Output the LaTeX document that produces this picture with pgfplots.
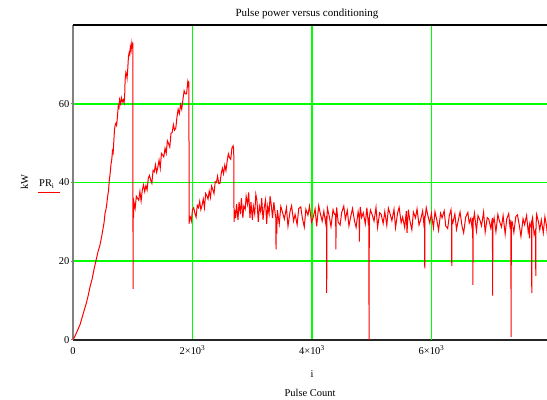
\documentclass[border=0pt]{standalone}
\usepackage{fontspec}
\setmainfont{Liberation Serif}
\usepackage{pgfplots}
\pgfplotsset{compat=1.18}
\definecolor{gridgreen}{RGB}{0,255,0}
\definecolor{plotred}{RGB}{255,0,0}
\begin{document}
\begin{tikzpicture}
\path[use as bounding box] (0,0) rectangle (547bp,400bp);
\begin{axis}[
  name=ax,
  at={(73bp,60bp)}, anchor=south west,
  width=474bp, height=315bp, scale only axis,
  xmin=0, xmax=7933, ymin=0, ymax=80,
  axis x line*=bottom, axis y line*=left,
  x axis line style={black!85, line width=1.2bp, -},
  y axis line style={gray, line width=1.6bp, -},
  xtick={2000,4000,6000},
  xticklabels={2×10\textsuperscript{3}, 4×10\textsuperscript{3}, 6×10\textsuperscript{3}},
  extra x ticks={0}, extra x tick labels={0},
  extra x tick style={grid=none},
  ytick={20,40,60},
  extra y ticks={0}, extra y tick labels={0},
  extra y tick style={grid=none},
  grid=major,
  major grid style={draw=gridgreen, line width=1.5bp},
  xtick style={draw=none},
  ytick style={line width=1bp},
  major tick length=2.5bp,
  tick align=outside,
  /pgf/number format/assume math mode=true,
  ticklabel style={font=\fontsize{10.5}{12}\selectfont},
  xticklabel style={anchor=base, yshift=-12bp},
  yticklabel style={inner sep=1bp},
  clip=true,
]
\draw[draw=gridgreen, line width=1.5bp] (axis cs:6000,0) -- (axis cs:6000,80);
\addplot[plotred, line width=1bp] coordinates {
(0,0) (40,1.2) (80,2.6) (120,4.0) (173,6.8) (220,9.2) (250,11) (285,13.5) (320,15.5) (350,17.8) (385,20.2) (420,22.5) (450,24.0) (480,26.3) (505,28.5) (520,29.8) (536,32.2) (550,33.0)
(565,34.5) (580,36.5) (595,38) (608,40.7) (620,42) (635,44.5) (650,46) (660,48) (672,47.5) (685,51) (695,53.5) (705,54.5) (718,55) (730,54.5) (745,57) (758,59.5) (770,59) (780,61) (795,60) (810,61.5) (825,60.5) (840,61) (855,60.2) (865,62) (872,66) (885,68) (895,67.5) (905,66.5) (915,68.5) (928,72) (940,73) (950,72.5) (960,74.5) (972,73.5) (985,75.5) (995,74.5) (1001,75.5)
(1003,47) (1005,13) (1008,33) (1012,31) (1020,35.0) (1040,33.4) (1060,36.5) (1080,36.0) (1100,35.5) (1120,37.7) (1140,35.3) (1160,38.1) (1180,39.4) (1200,37.7) (1220,39.2) (1240,38.1) (1260,41.1) (1280,41.8) (1300,40.6) (1320,39.8) (1340,43.1) (1360,42.7) (1380,44.5) (1400,42.6) (1420,43.9) (1440,45.7) (1460,43.6) (1480,47.4) (1500,47.0) (1520,46.5) (1540,48.7) (1560,47.4) (1580,50.6) (1600,49.9) (1620,49.0) (1640,52.5) (1660,52.7) (1680,54.7) (1700,53.3) (1720,53.8) (1740,56.6) (1760,58.6) (1780,57.5) (1800,59.8) (1820,58.6) (1840,61.1) (1860,63.3) (1880,62.5) (1900,62.5) (1920,65.4) (1930,64.2) (1936,65.8) (1940,64.5)
(1942,44) (1944,29.5) (1950,31.5) (1960,31.4) (1980,30.2) (2000,33.1) (2020,33.6) (2040,32.2) (2060,31.2) (2080,34.2) (2100,33.6) (2120,35.2) (2140,33.1) (2160,34.2) (2180,35.8) (2200,33.6) (2220,37.2) (2240,36.6) (2260,35.8) (2280,37.8) (2300,36.2) (2320,39.1) (2340,38.2) (2360,37.2) (2380,40.2) (2400,40.0) (2420,41.6) (2440,39.7) (2460,39.8) (2480,42.2) (2500,43.6) (2520,42.2) (2540,44.4) (2560,43.0) (2580,45.4) (2600,47.3) (2620,46.3) (2640,45.9) (2660,48.8) (2680,49.3) (2690,48.2)
(2693,37) (2696,30) (2705,33) (2722,31) (2738,34.5) (2761,30.5) (2779,35) (2802,32) (2818,36) (2843,31) (2858,34) (2882,33.2) (2898,36.5) (2921,34.5) (2940,37.5) (2962,31) (2979,35) (3002,30.5) (3018,34) (3041,32) (3060,37) (3078,35.5) (3101,30) (3119,34) (3142,32.5) (3158,36) (3181,30.5) (3199,33.5) (3222,35.5) (3241,29.5) (3259,34) (3282,32) (3298,36.5) (3321,34) (3339,31) (3362,35) (3380,32.5) (3394,31) (3398,23) (3402,29.5) (3410,27)
(3420,33.0) (3452,29.5) (3478,33.9) (3511,32.2) (3537,30.7) (3572,33.6) (3598,28.9) (3633,32.7) (3658,34.1) (3692,30.2) (3717,31.9) (3751,29.3) (3778,33.4) (3812,33.8) (3838,31.0) (3871,28.7) (3897,33.2) (3932,31.7) (3958,34.0) (3991,29.9)
(4018,31.0) (4052,33.3) (4078,28.9) (4112,34.1) (4138,32.2) (4171,30.2) (4198,32.7) (4232,29.4) (4242,31.5) (4246,12) (4250,30.5) (4258,33.5) (4291,31.2) (4318,28.8) (4352,33.1) (4377,31.9) (4396,32) (4400,23) (4404,30.5) (4412,33.7) (4438,29.9) (4471,29.2) (4497,32.4) (4532,34.0) (4558,30.7) (4591,32.9)
(4618,29.0) (4652,31.6) (4678,33.4) (4711,30.3) (4738,28.6) (4772,32.6) (4789,31) (4793,25) (4797,30.5) (4808,33.8) (4831,31.1) (4858,32.3) (4892,29.5) (4918,33.6) (4945,29.1) (4951,31) (4955,0) (4959,31) (4978,33.0)
(5012,31.6) (5038,30.2) (5071,33.7) (5098,28.6) (5132,32.3) (5158,31.9) (5191,29.6) (5218,32.6) (5252,29.1) (5278,33.5) (5311,31.8) (5337,30.3) (5372,33.2) (5398,28.5) (5433,32.3) (5458,33.7) (5492,29.8) (5517,31.2) (5551,28.6) (5578,32.7) (5590,27.2) (5612,33.1) (5638,30.3) (5671,28.0) (5697,32.5) (5732,31.0) (5758,33.3) (5791,29.2)
(5818,30.5) (5852,32.8) (5878,28.4) (5884,31.5) (5887,18.2) (5891,31) (5912,33.6) (5938,31.7) (5971,29.7) (5998,32.2) (6032,28.5) (6058,32.6) (6091,30.3) (6118,27.9) (6152,32.2) (6177,31.0) (6212,32.8) (6238,29.0) (6271,28.3) (6297,31.5) (6326,33.1) (6335,31.5) (6339,18.8) (6343,30.5) (6358,29.8) (6391,32.0)
(6418,28.1) (6452,30.7) (6478,32.5) (6511,28.9) (6538,27.2) (6572,31.2) (6608,32.4) (6631,29.7) (6658,30.9) (6682,28.1) (6689,31) (6693,14) (6697,30) (6718,32.2) (6752,27.7) (6778,31.6) (6811,30.4) (6837,29.0) (6872,32.5) (6898,27.4) (6933,31.1) (6958,30.7) (6992,28.4)
(7019,31.0) (7023,11.3) (7027,29.5) (7048,31.0) (7078,27.5) (7111,31.9) (7137,30.2) (7172,28.7) (7198,31.6) (7233,26.9) (7258,30.7) (7292,32.1) (7317,28.2) (7328,30.5) (7332,0.8) (7336,29.5) (7351,29.9) (7378,27.3) (7412,31.4) (7438,31.8) (7471,29.0) (7497,26.3) (7532,30.8) (7558,29.3) (7591,31.6) (7618,27.5)
(7637,29) (7640,25.8) (7643,29) (7652,28.8) (7674,30) (7678,11.9) (7682,30.5) (7691,31.1) (7718,26.7) (7742,28) (7745,16.3) (7749,29) (7760,31.9) (7790,30.0) (7812,28.0) (7838,30.5) (7871,27.2) (7898,31.3) (7925,29.0) (7940,26.6)
};
\end{axis}
\draw[black, line width=1.2bp] (ax.north west) -- (ax.north east);
\node[anchor=base, font=\fontsize{11}{13}\selectfont] at (307bp,383bp) {Pulse power versus conditioning};
\node[anchor=base, font=\fontsize{10.5}{12}\selectfont] at (312bp,23bp) {i};
\node[anchor=base, font=\fontsize{10.5}{12}\selectfont] at (310bp,4bp) {Pulse Count};
\node[rotate=90, font=\fontsize{10.5}{12}\selectfont] at (24.5bp,218bp) {kW};
\node[anchor=base west, inner sep=0pt, font=\fontsize{10.5}{12}\selectfont] at (39bp,213bp) {PR\textsubscript{i}};
\draw[plotred, line width=0.8bp] (38bp,207.3bp) -- (60bp,207.3bp);
\end{tikzpicture}
\end{document}
